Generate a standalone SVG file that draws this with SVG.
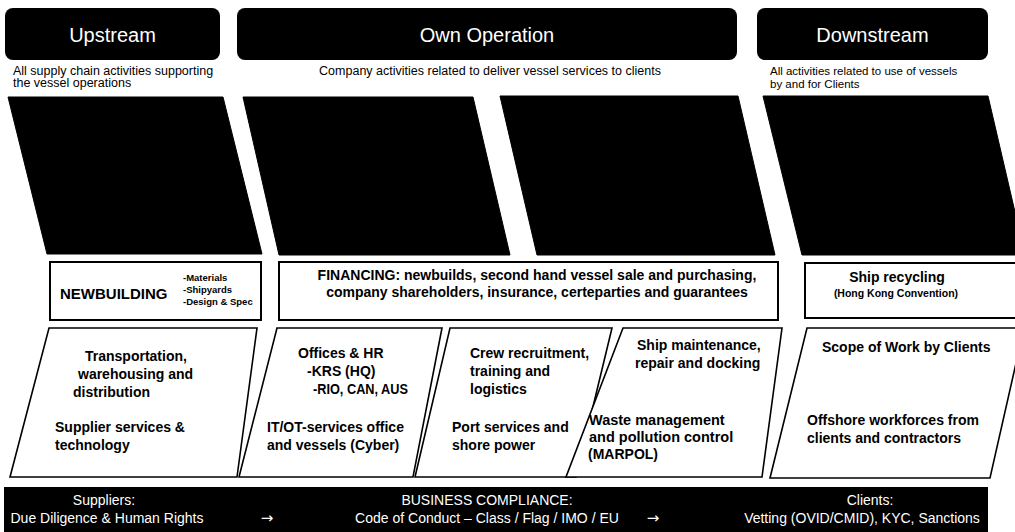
<svg xmlns="http://www.w3.org/2000/svg" width="1015" height="532" viewBox="0 0 1015 532">
<style>
.hdr{fill:#000}
.ht{fill:#fff;font-family:"Liberation Sans",Arial,sans-serif;font-size:20px;text-anchor:middle}
.sub{fill:#000;font-family:"Liberation Sans",Arial,sans-serif;font-size:12.5px}
.sub2{fill:#000;font-family:"Liberation Sans",Arial,sans-serif;font-size:11.5px}
.dark{fill:#000;stroke:#000;stroke-width:1}
.box{fill:#fff;stroke:#000;stroke-width:2}
.para{fill:#fff;stroke:#000;stroke-width:1.6;stroke-linejoin:miter}
.b{fill:#000;font-family:"Liberation Sans",Arial,sans-serif;font-weight:bold;font-size:14px}
.nb{fill:#000;font-family:"Liberation Sans",Arial,sans-serif;font-weight:bold;font-size:15px}
.sm{fill:#000;font-family:"Liberation Sans",Arial,sans-serif;font-weight:bold;font-size:9.5px}
.hk{fill:#000;font-family:"Liberation Sans",Arial,sans-serif;font-weight:bold;font-size:10.5px;text-anchor:middle}
.wm{fill:#000;font-family:"Liberation Sans",Arial,sans-serif;font-weight:bold;font-size:14.5px}
.bar{fill:#000}
.bt{fill:#fff;font-family:"Liberation Sans",Arial,sans-serif;font-size:14px;text-anchor:middle}
.arr{fill:#fff;font-family:"DejaVu Sans",sans-serif;font-size:15px;text-anchor:middle}
</style>
<g id="upstream-header">
<rect class="hdr" x="5" y="8" width="215" height="52" rx="8"/>
<text class="ht" x="112.5" y="42">Upstream</text>
<text class="sub" x="13" y="75">All supply chain activities supporting</text>
<text class="sub" x="13" y="87">the vessel operations</text>
</g>
<g id="own-operation-header">
<rect class="hdr" x="237" y="8" width="500" height="52" rx="8"/>
<text class="ht" x="487" y="42">Own Operation</text>
<text class="sub" x="490" y="75" text-anchor="middle">Company activities related to deliver vessel services to clients</text>
</g>
<g id="downstream-header">
<rect class="hdr" x="757" y="8" width="231" height="52" rx="8"/>
<text class="ht" x="872.5" y="42">Downstream</text>
<text class="sub2" x="770" y="75">All activities related to use of vessels</text>
<text class="sub2" x="770" y="88">by and for Clients</text>
</g>
<g id="dark-panel-1"><polygon class="dark" points="8,97 223,97 262,254 47,254"/></g>
<g id="dark-panel-2"><polygon class="dark" points="243,97 473,97 510,255 279,255"/></g>
<g id="dark-panel-3"><polygon class="dark" points="500,96 738,96 775,255 537,255"/></g>
<g id="dark-panel-4"><polygon class="dark" points="763,96 988,96 1025,255 802,255"/></g>
<g id="newbuilding">
<rect class="box" x="50" y="262" width="211" height="58"/>
<text class="nb" x="60" y="299">NEWBUILDING</text>
<text class="sm" x="183" y="281">-Materials</text>
<text class="sm" x="183" y="293">-Shipyards</text>
<text class="sm" x="183" y="305">-Design &amp; Spec</text>
</g>
<g id="financing">
<rect class="box" x="279" y="262" width="499" height="58"/>
<text class="b" x="537" y="280" text-anchor="middle">FINANCING: newbuilds, second hand vessel sale and purchasing,</text>
<text class="b" x="537" y="297" text-anchor="middle">company shareholders, insurance, certeparties and guarantees</text>
</g>
<g id="ship-recycling">
<rect class="box" x="805" y="263" width="220" height="55"/>
<text class="b" x="897" y="282" text-anchor="middle">Ship recycling</text>
<text class="hk" x="896" y="297">(Hong Kong Convention)</text>
</g>
<g id="transport">
<polygon class="para" points="49,328 257,328 237,477 10,477"/>
<text class="b" x="85" y="361">Transportation,</text>
<text class="b" x="78" y="379">warehousing and</text>
<text class="b" x="73" y="397">distribution</text>
<text class="b" x="55" y="432">Supplier services &amp;</text>
<text class="b" x="55" y="450">technology</text>
</g>
<g id="offices">
<polygon class="para" points="277,328 442,328 413,477 239,477"/>
<text class="b" x="298" y="358">Offices &amp; HR</text>
<text class="b" x="307" y="376">-KRS (HQ)</text>
<text class="b" x="313" y="394" textLength="95" lengthAdjust="spacingAndGlyphs">-RIO, CAN, AUS</text>
<text class="b" x="267" y="432">IT/OT-services office</text>
<text class="b" x="267" y="450">and vessels (Cyber)</text>
</g>
<g id="crew">
<polygon class="para" points="450,328 612,328 576,477 415,477"/>
<text class="b" x="470" y="358">Crew recruitment,</text>
<text class="b" x="470" y="376">training and</text>
<text class="b" x="470" y="394">logistics</text>
<text class="b" x="452" y="432">Port services and</text>
<text class="b" x="452" y="450">shore power</text>
</g>
<g id="maintenance">
<polygon class="para" points="623,328 782,328 762,477 566,477"/>
<text class="b" x="637" y="350">Ship maintenance,</text>
<text class="b" x="635" y="368">repair and docking</text>
<text class="wm" x="589" y="425">Waste management</text>
<text class="wm" x="589" y="442">and pollution control</text>
<text class="b" x="588" y="459">(MARPOL)</text>
</g>
<g id="clients-scope">
<polygon class="para" points="807,328 1024,328 990,478 770,478"/>
<text class="b" x="822" y="352">Scope of Work by Clients</text>
<text class="b" x="807" y="425">Offshore workforces from</text>
<text class="b" x="807" y="443">clients and contractors</text>
</g>
<g id="compliance-bar">
<rect class="bar" x="4" y="487" width="984" height="45"/>
<text class="bt" x="104" y="505">Suppliers:</text>
<text class="bt" x="107" y="523">Due Diligence &amp; Human Rights</text>
<text class="bt" x="487" y="505">BUSINESS COMPLIANCE:</text>
<text class="bt" x="487" y="523">Code of Conduct – Class / Flag / IMO / EU</text>
<text class="bt" x="870" y="505">Clients:</text>
<text class="bt" x="862" y="523">Vetting (OVID/CMID), KYC, Sanctions</text>
</g>
<g id="connectors">
<text class="arr" x="267" y="523">→</text>
<text class="arr" x="653" y="523">→</text>
</g>
</svg>
